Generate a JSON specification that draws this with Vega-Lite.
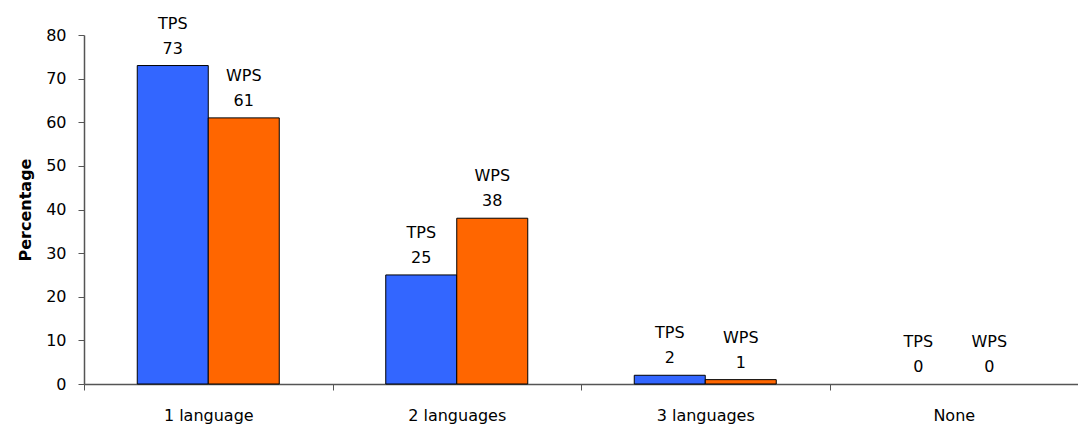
{
  "$schema": "https://vega.github.io/schema/vega-lite/v6.json",
  "width": 994,
  "height": 349,
  "autosize": {"type": "none"},
  "padding": {"left": 84, "top": 35, "right": 0, "bottom": 41},
  "background": "white",
  "config": {
    "view": {"stroke": null},
    "font": "DejaVu Sans",
    "axis": {"labelFont": "DejaVu Sans", "titleFont": "DejaVu Sans", "labelColor": "black", "titleColor": "black", "domainColor": "#555", "tickColor": "#555", "grid": false}
  },
  "data": {
    "values": [
      {"category": "1 language", "series": "TPS", "value": 73},
      {"category": "1 language", "series": "WPS", "value": 61},
      {"category": "2 languages", "series": "TPS", "value": 25},
      {"category": "2 languages", "series": "WPS", "value": 38},
      {"category": "3 languages", "series": "TPS", "value": 2},
      {"category": "3 languages", "series": "WPS", "value": 1},
      {"category": "None", "series": "TPS", "value": 0},
      {"category": "None", "series": "WPS", "value": 0}
    ]
  },
  "encoding": {
    "x": {
      "field": "category", "type": "nominal", "sort": null,
      "scale": {"paddingInner": 0, "paddingOuter": 0},
      "axis": {"title": null, "labelAngle": 0, "labelFontSize": 16, "labelPadding": 17, "tickBand": "extent", "tickSize": 6, "domainWidth": 1.5}
    },
    "xOffset": {"field": "series", "type": "nominal", "scale": {"paddingOuter": 0.75, "paddingInner": 0}},
    "y": {
      "field": "value", "type": "quantitative",
      "scale": {"domain": [0, 80], "nice": false},
      "axis": {"title": "Percentage", "titleFontSize": 16, "titleFontWeight": "bold", "titlePadding": 12, "labelFontSize": 16, "values": [0,10,20,30,40,50,60,70,80], "labelOverlap": false, "tickSize": 6, "labelPadding": 12, "domainWidth": 1.5}
    }
  },
  "layer": [
    {
      "transform": [{"filter": "datum.value > 0"}],
      "mark": {"type": "bar", "stroke": "black", "strokeWidth": 1},
      "encoding": {
        "color": {"field": "series", "type": "nominal", "scale": {"domain": ["TPS", "WPS"], "range": ["#3366FF", "#FF6600"]}, "legend": null}
      }
    },
    {
      "mark": {"type": "text", "baseline": "alphabetic", "dy": -37, "fontSize": 16, "color": "black"},
      "encoding": {"text": {"field": "series"}}
    },
    {
      "mark": {"type": "text", "baseline": "alphabetic", "dy": -12, "fontSize": 16, "color": "black"},
      "encoding": {"text": {"field": "value", "type": "quantitative"}}
    }
  ]
}
